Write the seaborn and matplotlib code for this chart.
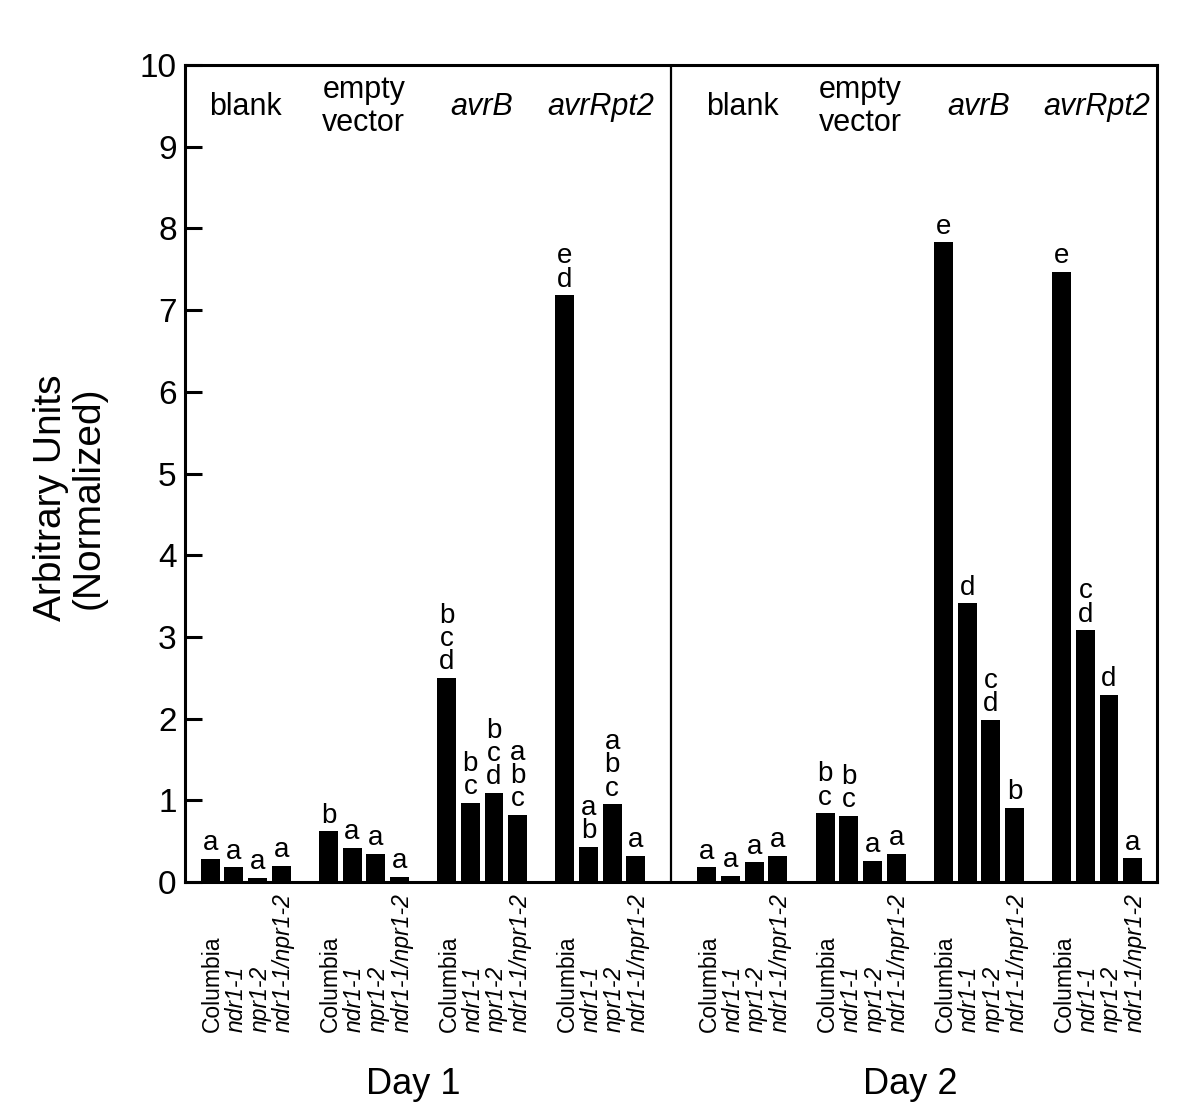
import matplotlib
matplotlib.use('Agg')

import matplotlib.pyplot as plt
import numpy as np
import seaborn as sns
import pandas as pd

# data
days = ['Day 1', 'Day 2']
treatments = ['blank', 'empty\nvector', 'avrB', 'avrRpt2']
treat_italic = [False, False, True, True]
genotypes = ['Columbia', 'ndr1-1', 'npr1-2', 'ndr1-1/npr1-2']
geno_italic = [False, True, True, True]

day1_values = [[0.28, 0.18, 0.05, 0.20],
               [0.62, 0.42, 0.34, 0.065],
               [2.50, 0.97, 1.09, 0.82],
               [7.18, 0.43, 0.95, 0.32]]
day2_values = [[0.18, 0.07, 0.24, 0.32],
               [0.84, 0.81, 0.26, 0.34],
               [7.83, 3.41, 1.98, 0.91],
               [7.47, 3.08, 2.29, 0.29]]

day1_letters = [['a', 'a', 'a', 'a'],
                ['b', 'a', 'a', 'a'],
                ['b\nc\nd', 'b\nc', 'b\nc\nd', 'a\nb\nc'],
                ['e\nd', 'a\nb', 'a\nb\nc', 'a']]
day2_letters = [['a', 'a', 'a', 'a'],
                ['b\nc', 'b\nc', 'a', 'a'],
                ['e', 'd', 'c\nd', 'b'],
                ['e', 'c\nd', 'd', 'a']]

# layout: 4 bars per treatment, gap of one slot between treatments
group_step = 5
day_step = 21

rows = []
for d, (vals, lets) in enumerate([(day1_values, day1_letters), (day2_values, day2_letters)]):
    for g, treat in enumerate(treatments):
        for i, geno in enumerate(genotypes):
            rows.append({'day': days[d], 'treatment': treat, 'genotype': geno,
                         'pos': d * day_step + g * group_step + i,
                         'value': vals[g][i], 'letter': lets[g][i]})
df = pd.DataFrame(rows)

sns.set_style('ticks', {'axes.edgecolor': 'black', 'text.color': 'black',
                        'ytick.color': 'black', 'axes.labelcolor': 'black'})
plt.rcParams['font.family'] = ['Liberation Sans', 'DejaVu Sans']

fig = plt.figure(figsize=(12, 11.19), dpi=100)
ax = fig.add_axes([0.1542, 0.2118, 0.81, 0.7301])

sns.barplot(data=df, x='pos', y='value', native_scale=True, color='black',
            width=0.8, errorbar=None, saturation=1, ax=ax)
for p in ax.patches:
    p.set_edgecolor('none')

ax.set_xlim(-1.06, 40.03)
ax.set_ylim(0, 10)
ax.set_yticks(np.arange(0, 11, 1))
ax.set_xticks([])
ax.set_xlabel('')
ax.set_ylabel('')
ax.tick_params(axis='y', direction='in', length=12, width=2.2, labelsize=24,
               pad=6, colors='black')
for s in ax.spines.values():
    s.set_linewidth(2.2)
    s.set_color('black')
    s.set_visible(True)

# day divider
ax.axvline(19.5, color='black', lw=1.6)

# significance letters
for _, r in df.iterrows():
    ax.annotate(r['letter'], (r['pos'], r['value']), xytext=(0, 2),
                textcoords='offset points', ha='center', va='bottom',
                fontsize=20, linespacing=0.86, color='black')

# treatment headers and genotype labels
tr = ax.get_xaxis_transform()
for d in range(2):
    for g, treat in enumerate(treatments):
        x0 = d * day_step + g * group_step
        ax.text(x0 + 1.5, 0.949, treat, transform=tr, ha='center', va='center',
                fontsize=22, style='italic' if treat_italic[g] else 'normal',
                linespacing=1.15, color='black')
        for i, geno in enumerate(genotypes):
            ax.text(x0 + i + 0.1, -0.184, geno, transform=tr, rotation=90,
                    ha='center', va='bottom', fontsize=16.5, color='black',
                    style='italic' if geno_italic[i] else 'normal')
    ax.text(d * day_step + 8.6, -0.248, days[d], transform=tr, ha='center',
            va='center', fontsize=26, color='black')

fig.text(0.058, 0.555, 'Arbitrary Units\n(Normalized)', rotation=90,
         ha='center', va='center', fontsize=28, linespacing=1.05, color='black')

fig.savefig('out.png', dpi=100, facecolor='white')
